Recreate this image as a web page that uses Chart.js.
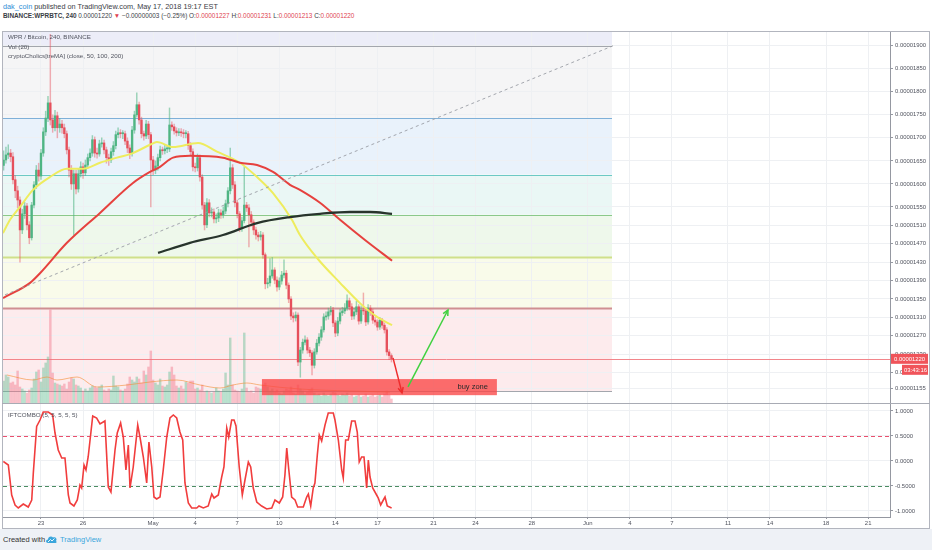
<!DOCTYPE html>
<html>
<head>
<meta charset="utf-8">
<script src="https://cdn.jsdelivr.net/npm/chart.js@4.4.1/dist/chart.umd.min.js"></script>
<style>
  body { margin: 0; width: 932px; height: 550px; background: #fff; position: relative; overflow: hidden;
         font-family: "Liberation Sans", Arial, sans-serif; }
  .hd { position: absolute; left: 3px; color: #3a3d45; white-space: nowrap; }
  .hd .r { color: #e0434f; }
  .lg { position: absolute; left: 8px; font-size: 6.2px; color: #50535e; white-space: nowrap; z-index: 3; }
  #pricebox { position: absolute; left: 3px; top: 32px; width: 927px; height: 371px; }
  #oscbox { position: absolute; left: 3px; top: 404px; width: 927px; height: 125px; }
  #frame { position: absolute; left: 2px; top: 31px; width: 928px; height: 498px; box-sizing: border-box;
           border: 1px solid #b2b5be; pointer-events: none; z-index: 4; }
  #sep { position: absolute; left: 2px; top: 403px; width: 928px; height: 1px; background: #a8abb4; z-index: 4; }
  #foot { position: absolute; left: 0; top: 529px; width: 932px; height: 21px; background: #eef1f6; }
  #foot span { position: absolute; top: 6px; font-size: 7.5px; white-space: nowrap; }
</style>
</head>
<body>
<div class="hd" style="top:2px;font-size:7.3px"><span style="color:#2f8ed6">dak_coin</span> published on TradingView.com, May 17, 2018 19:17 EST</div>
<div class="hd" style="top:12px;font-size:6.4px"><b>BINANCE:WPRBTC, 240</b> 0.00001220 <span class="r">▼</span> −0.00000003 (−0.25%) O:<span class="r">0.00001227</span> H:<span class="r">0.00001231</span> L:<span class="r">0.00001213</span> C:<span class="r">0.00001220</span></div>

<div id="pricebox"><canvas id="price"></canvas></div>
<div id="oscbox"><canvas id="osc"></canvas></div>
<div id="frame"></div>
<div id="sep"></div>

<div class="lg" style="top:33px">WPR / Bitcoin, 240, BINANCE</div>
<div class="lg" style="top:43px">Vol (20)</div>
<div class="lg" style="top:52px">cryptoCholics[treMA] (close, 50, 100, 200)</div>
<div class="lg" style="top:411px">IFTCOMBO (5, 5, 5, 5, 5)</div>

<div id="foot">
  <span style="left:3px;color:#333">Created with</span>
  <svg style="position:absolute;left:45px;top:5px" width="13" height="10" viewBox="0 0 13 10">
    <path d="M3 9 C0.5 9 0.5 5.5 3 5.5 C3 2.5 6.5 1.5 8 3.5 C10.5 2.5 12.5 5 11 7 C12.5 8.5 11 9 10 9 Z" fill="#3aa6dc"/>
    <path d="M3 8 L5.5 5.5 L7 7 L9.5 4.5" stroke="#fff" stroke-width="0.9" fill="none"/>
  </svg>
  <span style="left:60px;color:#3aa6dc">TradingView</span>
</div>

<script>
// time axis: days counted from Apr 23 00:00, one candle every 4h
const firstCandleDay = -2.667;
const firstOpen = 1640;

// prices in satoshi (1e-8 BTC)
const closes = [1652,1663,1667,1659,1609,1585,1565,1500,1535,1552,
  1511,1483,1554,1598,1630,1617,1667,1713,1743,1776,
  1739,1722,1748,1722,1730,1722,1709,1674,1630,1600,
  1622,1589,1622,1637,1624,1641,1657,1667,1696,1667,
  1665,1687,1689,1674,1657,1652,1670,1683,1707,1711,
  1709,1709,1693,1678,1667,1717,1750,1772,1739,1709,
  1704,1730,1707,1652,1630,1639,1657,1674,1672,1676,
  1676,1728,1724,1715,1711,1713,1711,1709,1709,1683,
  1670,1637,1635,1657,1615,1554,1511,1559,1537,1539,
  1524,1526,1537,1533,1541,1557,1585,1635,1598,1559,
  1535,1504,1520,1554,1548,1533,1517,1500,1489,1485,
  1489,1446,1383,1385,1400,1413,1391,1376,1389,1402,
  1406,1380,1350,1313,1309,1315,1213,1239,1256,1261,
  1239,1233,1206,1235,1254,1267,1283,1311,1313,1322,
  1326,1298,1276,1302,1320,1324,1330,1346,1333,1313,
  1322,1333,1302,1326,1324,1300,1330,1322,1304,1300,
  1289,1304,1293,1283,1235,1227,1220];

const highs = [1672,1680,1685,1675,1668,1618,1595,1572,1545,1560,
  1558,1518,1560,1605,1640,1645,1675,1722,1758,1790,
  1925,1750,1760,1756,1742,1738,1730,1715,1680,1640,
  1630,1630,1632,1648,1645,1652,1665,1676,1705,1702,
  1678,1695,1700,1695,1680,1665,1678,1692,1715,1722,
  1718,1716,1715,1700,1685,1725,1758,1798,1778,1745,
  1715,1738,1736,1712,1660,1650,1665,1682,1680,1684,
  1684,1765,1735,1730,1722,1720,1720,1718,1716,1714,
  1690,1676,1645,1665,1663,1620,1560,1568,1566,1548,
  1546,1535,1545,1544,1550,1565,1592,1678,1642,1605,
  1565,1540,1528,1637,1560,1555,1540,1522,1506,1495,
  1497,1494,1450,1395,1438,1440,1418,1398,1396,1410,
  1435,1412,1385,1355,1320,1322,1320,1245,1263,1270,
  1266,1245,1238,1242,1262,1275,1290,1318,1322,1330,
  1334,1332,1303,1310,1328,1332,1340,1359,1352,1340,
  1330,1345,1338,1335,1363,1330,1338,1336,1328,1310,
  1305,1310,1308,1298,1288,1240,1231];

const lows = [1630,1645,1655,1648,1600,1570,1548,1430,1492,1525,
  1500,1470,1478,1548,1590,1606,1610,1660,1705,1735,
  1728,1712,1715,1700,1712,1710,1700,1665,1615,1588,
  1489,1578,1582,1615,1612,1618,1635,1650,1660,1658,
  1656,1660,1680,1665,1645,1640,1646,1662,1676,1700,
  1700,1698,1685,1668,1655,1660,1710,1745,1730,1700,
  1695,1698,1698,1550,1620,1622,1630,1650,1664,1665,
  1668,1670,1716,1708,1704,1705,1703,1700,1700,1675,
  1662,1628,1626,1628,1606,1545,1500,1505,1528,1528,
  1515,1515,1518,1525,1526,1535,1550,1578,1590,1550,
  1526,1496,1497,1515,1540,1463,1508,1490,1480,1476,
  1478,1438,1372,1374,1378,1395,1383,1367,1370,1382,
  1396,1372,1342,1305,1300,1302,1205,1180,1232,1250,
  1232,1225,1185,1200,1230,1248,1260,1278,1304,1306,
  1315,1290,1268,1270,1296,1314,1318,1325,1326,1305,
  1306,1316,1295,1297,1316,1292,1295,1314,1297,1293,
  1282,1284,1286,1276,1228,1218,1213];

const volume = [22,28,26,20,21,18,32,16,14,12, 10,13,15,24,31,33,21,35,40,46,
  93,30,20,19,18,17,19,14,21,25, 24,18,17,15,12,14,12,15,17,16,
  15,16,18,13,12,14,13,27,17,16, 13,12,14,19,26,23,21,26,24,20,
  32,28,36,52,23,20,18,24,17,16, 18,31,36,28,17,15,17,14,21,20,
  22,22,14,15,13,18,11,12,11,10, 11,15,12,11,14,30,18,65,18,13,
  12,11,14,70,15,11,12,10,16,15, 14,18,20,16,12,14,11,13,10,9,
  12,14,13,16,10,9,18,14,12,9, 11,13,15,10,8,9,7,10,8,7,
  9,11,10,8,7,9,8,10,7,8, 6,7,8,6,7,9,6,7,8,6,
  7,8,6,9,12,8,4];

const volMaDays = [-2.43,-0.57,0.43,1.14,2.57,3.99,6.13,7.77,9.70,11.34,12.77,13.69,14.69,15.62,18.47,22.04,24.89];
const volMa = [28,23,26,23,26,16,18,21,23,18,15,18,20,18,14,12,11];

const ma50Days = [-2.71,-2.21,-1.50,-0.57,0.64,1.85,3.00,4.21,5.42,6.56,7.77,8.27,9.42,11.20,12.55,14.19,15.41,16.55,17.90,18.47,19.69,21.33,22.75,23.97,25.04];
const ma50 = [1493,1522,1550,1587,1615,1633,1633,1646,1657,1667,1685,1691,1680,1689,1670,1646,1615,1580,1522,1489,1439,1385,1341,1311,1293];
const ma100Days = [-2.71,-0.78,-0.07,1.85,4.21,6.56,7.77,8.49,9.42,10.63,12.98,14.19,15.41,16.55,17.76,18.47,19.90,21.33,23.11,25.04];
const ma100 = [1352,1385,1406,1472,1537,1602,1626,1637,1657,1661,1657,1646,1641,1626,1598,1587,1559,1522,1478,1433];
const ma200Days = [8.35,10.63,12.98,15.41,17.76,19.90,22.04,23.47,25.04];
const ma200 = [1450,1472,1489,1515,1528,1535,1539,1539,1535];

// fibonacci drawing
const fibLevels = [1930,1900,1743,1620,1533,1441,1330,1150];
const fibEndDay = 40.73;
const trendDays = [-2.57, 40.80];
const trendPrices = [1359, 1900];

// buy zone and arrows
const buyZoneDays = [15.76, 32.52];
const buyZonePrices = [1141, 1176];
const redArrowDays = [25.11, 25.75];
const redArrowPrices = [1222, 1146];
const greenArrowDays = [26.18, 29.03];
const greenArrowPrices = [1159, 1326];
const countdown = '03:43:16';

// oscillator
const oscDays = [-2.69,-2.33,-2.09,-1.85,-1.62,-1.26,-0.91,-0.66,-0.55,-0.31,
  -0.07,0.16,0.52,0.83,1.00,1.23,1.48,1.71,1.95,2.07,
  2.35,2.59,2.78,2.90,3.07,3.21,3.37,3.69,3.97,4.21,
  4.56,4.80,4.99,5.28,5.44,5.68,5.87,6.06,6.23,6.35,
  6.58,6.90,7.06,7.30,7.54,7.70,7.90,8.06,8.25,8.49,
  8.72,8.97,9.20,9.44,9.68,9.91,10.11,10.27,10.51,10.75,
  11.11,11.27,11.58,11.93,12.18,12.34,12.65,12.89,13.05,13.25,
  13.39,13.60,13.77,13.91,14.14,14.36,14.55,14.79,14.96,15.14,
  15.39,15.74,16.10,16.46,16.69,17.00,17.24,17.40,17.53,17.67,
  17.88,18.12,18.31,18.71,18.95,19.07,19.24,19.42,19.54,19.71,
  19.85,20.02,20.26,20.49,20.85,20.97,21.21,21.45,21.56,21.73,
  21.92,22.16,22.40,22.56,22.70,22.87,23.04,23.23,23.35,23.47,
  23.66,23.94,24.06,24.23,24.42,24.54,24.70,25.01];
const oscValues = [-0.01,-0.08,-0.68,-0.88,-0.94,-0.86,-0.92,-0.78,-0.25,0.69,
  0.82,0.98,0.98,0.92,0.56,0.22,0.06,0.06,-0.68,-0.84,
  -0.90,-0.78,-0.48,-0.54,-0.08,-0.18,0.09,0.90,0.86,0.74,
  0.80,-0.52,-0.62,0.22,0.56,0.76,0.48,-0.18,0.32,-0.54,
  -0.12,0.72,0.48,0.08,-0.44,0.38,-0.12,-0.72,-0.76,-0.72,
  -0.18,0.48,0.86,0.92,0.86,0.58,0.42,-0.44,-0.84,-0.94,
  -0.94,-0.90,-0.94,-0.90,-0.66,-0.74,-0.68,-0.32,-0.12,0.66,
  0.48,0.82,0.82,0.70,-0.12,-0.68,-0.38,-0.02,-0.12,-0.54,
  -0.82,-0.90,-0.96,-0.94,-0.78,-0.84,-0.72,-0.28,0.26,-0.16,
  -0.72,-0.78,-0.92,-0.92,-0.72,-0.66,-0.90,-0.54,-0.44,0.12,
  0.52,0.40,0.72,0.96,0.96,0.82,0.42,-0.18,-0.34,0.42,
  0.42,0.80,0.80,0.58,-0.02,0.08,0.08,-0.54,0.02,-0.32,
  -0.54,-0.68,-0.74,-0.88,-0.78,-0.72,-0.90,-0.94];
const oscLevels = [0.5, -0.5];

// axes
const priceTicks = [1900,1850,1800,1750,1700,1650,1600,1550,1510,1470,1430,1390,1350,1310,1270,1230,1190,1155];
const oscTicks = [1, 0.5, 0, -0.5, -1];
const dateTickDays = [0,3,8,11,14,17,21,24,28,31,35,39,42,45,49,52,56,59];
const dateTickLabels = ['23','26','May','4','7','10','14','17','21','24','28','Jun','4','7','11','14','18','21'];

const xMin = -2.71, xMax = 60.56;

// styles
const FONT = "'Liberation Sans', Arial, sans-serif";
const tickFont = { family: FONT, size: 5.9 };
const tickColor = '#50535e';
const gridColor = '#eef0f3';
const axisColor = '#9598a1';
const upColor = '#4fb583', downColor = '#e6505c';
const bandColors = ['#ecedf8', '#f5f5f6', '#e9f2fb', '#eaf7f5', '#eef8eb', '#f9fbea', '#fdebed'];
const levelColors = ['#a3a6ad', '#7fb0d8', '#6cc9c4', '#8ac98a', '#cfe08a', '#cf8f92', '#a3a6ad'];
const levelWidths = [1.2, 1.2, 1.2, 1.2, 2, 2, 1.2];

const candleTimes = closes.map((c, i) => firstCandleDay + i / 6);
const opens = closes.map((c, i) => i === 0 ? firstOpen : closes[i - 1]);
const isUp = closes.map((c, i) => c >= opens[i]);
const lastClose = closes[closes.length - 1];

const pts = (xs, ys) => xs.map((x, i) => ({ x: x, y: ys[i] }));

function arrow(ctx, x1, y1, x2, y2, color) {
  const a = Math.atan2(y2 - y1, x2 - x1), h = 6;
  ctx.strokeStyle = color; ctx.lineWidth = 1.5; ctx.setLineDash([]);
  ctx.beginPath(); ctx.moveTo(x1, y1); ctx.lineTo(x2, y2); ctx.stroke();
  ctx.beginPath();
  ctx.moveTo(x2 - h * Math.cos(a - 0.45), y2 - h * Math.sin(a - 0.45));
  ctx.lineTo(x2, y2);
  ctx.lineTo(x2 - h * Math.cos(a + 0.45), y2 - h * Math.sin(a + 0.45));
  ctx.stroke();
}

const drawings = {
  id: 'drawings',
  beforeDraw(chart) {
    const { ctx, chartArea: a, scales: { x, y } } = chart;
    const x0 = a.left, x1 = x.getPixelForValue(fibEndDay);
    ctx.save();
    for (let i = 0; i < fibLevels.length - 1; i++) {
      const top = y.getPixelForValue(fibLevels[i]), bot = y.getPixelForValue(fibLevels[i + 1]);
      ctx.fillStyle = bandColors[i];
      ctx.fillRect(x0, top, x1 - x0, bot - top);
    }
    ctx.restore();
  },
  beforeDatasetsDraw(chart) {
    const { ctx, chartArea: a, scales: { x, y } } = chart;
    const x0 = a.left, x1 = x.getPixelForValue(fibEndDay);
    ctx.save();
    for (let i = 1; i < fibLevels.length; i++) {
      const py = Math.round(y.getPixelForValue(fibLevels[i])) + 0.5;
      ctx.strokeStyle = levelColors[i - 1]; ctx.lineWidth = levelWidths[i - 1];
      ctx.beginPath(); ctx.moveTo(x0, py); ctx.lineTo(x1, py); ctx.stroke();
    }
    const pl = Math.round(y.getPixelForValue(lastClose)) + 0.5;
    ctx.strokeStyle = '#f2858b'; ctx.lineWidth = 1;
    ctx.beginPath(); ctx.moveTo(a.left, pl); ctx.lineTo(a.right, pl); ctx.stroke();
    ctx.restore();
  },
  afterDatasetsDraw(chart) {
    const { ctx, scales: { x, y } } = chart;
    ctx.save();
    // fib trend line
    ctx.strokeStyle = '#9a9da5'; ctx.lineWidth = 0.9; ctx.setLineDash([3, 3]);
    ctx.beginPath();
    ctx.moveTo(x.getPixelForValue(trendDays[0]), y.getPixelForValue(trendPrices[0]));
    ctx.lineTo(x.getPixelForValue(trendDays[1]), y.getPixelForValue(trendPrices[1]));
    ctx.stroke();
    ctx.setLineDash([]);
    // buy zone
    const bx0 = x.getPixelForValue(buyZoneDays[0]), bx1 = x.getPixelForValue(buyZoneDays[1]);
    const by0 = y.getPixelForValue(buyZonePrices[1]), by1 = y.getPixelForValue(buyZonePrices[0]);
    ctx.fillStyle = 'rgba(250,70,70,0.78)';
    ctx.fillRect(bx0, by0, bx1 - bx0, by1 - by0);
    ctx.fillStyle = '#2a2a2a'; ctx.font = '7.5px ' + FONT;
    ctx.textAlign = 'right'; ctx.textBaseline = 'middle';
    ctx.fillText('buy zone', bx1 - 9, (by0 + by1) / 2);
    // arrows
    arrow(ctx, x.getPixelForValue(redArrowDays[0]), y.getPixelForValue(redArrowPrices[0]),
      x.getPixelForValue(redArrowDays[1]), y.getPixelForValue(redArrowPrices[1]), '#ee2c2c');
    arrow(ctx, x.getPixelForValue(greenArrowDays[0]), y.getPixelForValue(greenArrowPrices[0]),
      x.getPixelForValue(greenArrowDays[1]), y.getPixelForValue(greenArrowPrices[1]), '#3fd13f');
    ctx.restore();
  },
  afterDraw(chart) {
    const { ctx, chartArea: a, scales: { y } } = chart;
    const py = y.getPixelForValue(lastClose);
    const w = chart.width;
    ctx.save();
    ctx.fillStyle = '#f0545a';
    ctx.fillRect(a.right + 1, py - 5, w - a.right - 3, 10);
    ctx.fillRect(a.right + 12, py + 6, w - a.right - 14, 10);
    ctx.fillStyle = '#fff'; ctx.font = '5.9px ' + FONT;
    ctx.textAlign = 'left'; ctx.textBaseline = 'middle';
    ctx.fillText((lastClose / 1e8).toFixed(8), a.right + 4, py + 0.5);
    ctx.fillText(countdown, a.right + 14, py + 11.5);
    ctx.restore();
  }
};

// no extra room for tick labels at the ends of value axes
const noPad = s => { s.paddingTop = 0; s.paddingBottom = 0; };

const dateAxis = (showLabels) => ({
  type: 'linear', min: xMin, max: xMax, offset: false,
  afterBuildTicks: s => { s.ticks = dateTickDays.map(v => ({ value: v })); },
  ticks: { display: showLabels, autoSkip: false, maxRotation: 0, font: tickFont, color: tickColor, padding: 1,
           callback: (v, i) => dateTickLabels[i] },
  grid: { color: gridColor, offset: false, drawTicks: showLabels, tickLength: 2, tickColor: axisColor },
  border: { display: showLabels, color: axisColor },
  afterFit: s => { s.height = showLabels ? 12 : 0; s.paddingLeft = 0; s.paddingRight = 0; }
});

new Chart(document.getElementById('price'), {
  type: 'line',
  data: {
    datasets: [
      { label: 'MA 200', data: pts(ma200Days, ma200), borderColor: '#27342c', borderWidth: 2.3,
        pointRadius: 0, cubicInterpolationMode: 'monotone', order: 0 },
      { label: 'MA 100', data: pts(ma100Days, ma100), borderColor: '#e6413e', borderWidth: 2,
        pointRadius: 0, cubicInterpolationMode: 'monotone', order: 1 },
      { label: 'MA 50', data: pts(ma50Days, ma50), borderColor: '#eeec5e', borderWidth: 2,
        pointRadius: 0, cubicInterpolationMode: 'monotone', order: 2 },
      { type: 'bar', label: 'Body', data: candleTimes.map((t, i) => ({ x: t, y: [opens[i], closes[i]] })),
        backgroundColor: isUp.map(u => u ? upColor : downColor), barThickness: 1.7, minBarLength: 1,
        grouped: false, borderWidth: 0, order: 3 },
      { type: 'bar', label: 'Wick', data: candleTimes.map((t, i) => ({ x: t, y: [lows[i], highs[i]] })),
        backgroundColor: isUp.map(u => u ? 'rgba(79,181,131,0.55)' : 'rgba(230,80,92,0.45)'), barThickness: 0.8,
        grouped: false, borderWidth: 0, order: 4 },
      { label: 'Vol MA', yAxisID: 'vol', data: pts(volMaDays, volMa), borderColor: 'rgba(244,140,50,0.85)',
        borderWidth: 0.7, pointRadius: 0, cubicInterpolationMode: 'monotone', order: 5 },
      { type: 'bar', label: 'Volume', yAxisID: 'vol', data: candleTimes.map((t, i) => ({ x: t, y: volume[i] })),
        backgroundColor: isUp.map(u => u ? 'rgba(90,185,140,0.42)' : 'rgba(240,110,130,0.42)'),
        barThickness: 1.8, grouped: false, borderWidth: 0, order: 6 }
    ]
  },
  options: {
    animation: false, responsive: true, maintainAspectRatio: false, events: [],
    layout: { padding: 0 },
    plugins: { legend: { display: false }, tooltip: { enabled: false } },
    scales: {
      x: dateAxis(false),
      y: {
        position: 'right', min: 1124, max: 1930,
        afterBuildTicks: s => { s.ticks = priceTicks.map(v => ({ value: v })); },
        ticks: { font: tickFont, color: tickColor, padding: 2, callback: v => (v / 1e8).toFixed(8) },
        grid: { color: gridColor, tickLength: 3, tickColor: axisColor },
        border: { color: axisColor },
        afterFit: s => { s.width = 40; noPad(s); }
      },
      vol: { display: false, min: 0, max: 371 }
    }
  },
  plugins: [drawings]
});

const oscLines = {
  id: 'oscLines',
  beforeDatasetsDraw(chart) {
    const { ctx, chartArea: a, scales: { y } } = chart;
    const colors = ['#e9506e', '#4b8c62'];
    ctx.save();
    ctx.lineWidth = 1; ctx.setLineDash([4, 3]);
    oscLevels.forEach((v, i) => {
      const py = Math.round(y.getPixelForValue(v)) + 0.5;
      ctx.strokeStyle = colors[i];
      ctx.beginPath(); ctx.moveTo(a.left, py); ctx.lineTo(a.right, py); ctx.stroke();
    });
    ctx.restore();
  }
};

new Chart(document.getElementById('osc'), {
  type: 'line',
  data: {
    datasets: [{ label: 'IFTCOMBO', data: pts(oscDays, oscValues), borderColor: '#f13d3d', borderWidth: 1.6,
                 pointRadius: 0, tension: 0 }]
  },
  options: {
    animation: false, responsive: true, maintainAspectRatio: false, events: [],
    layout: { padding: 0 },
    plugins: { legend: { display: false }, tooltip: { enabled: false } },
    scales: {
      x: dateAxis(true),
      y: {
        position: 'right', min: -1.12, max: 1.14,
        afterBuildTicks: s => { s.ticks = oscTicks.map(v => ({ value: v })); },
        ticks: { font: tickFont, color: tickColor, padding: 2, callback: v => v.toFixed(4) },
        grid: { color: gridColor, tickLength: 3, tickColor: axisColor },
        border: { color: axisColor },
        afterFit: s => { s.width = 40; noPad(s); }
      }
    }
  },
  plugins: [oscLines]
});
</script>
</body>
</html>
